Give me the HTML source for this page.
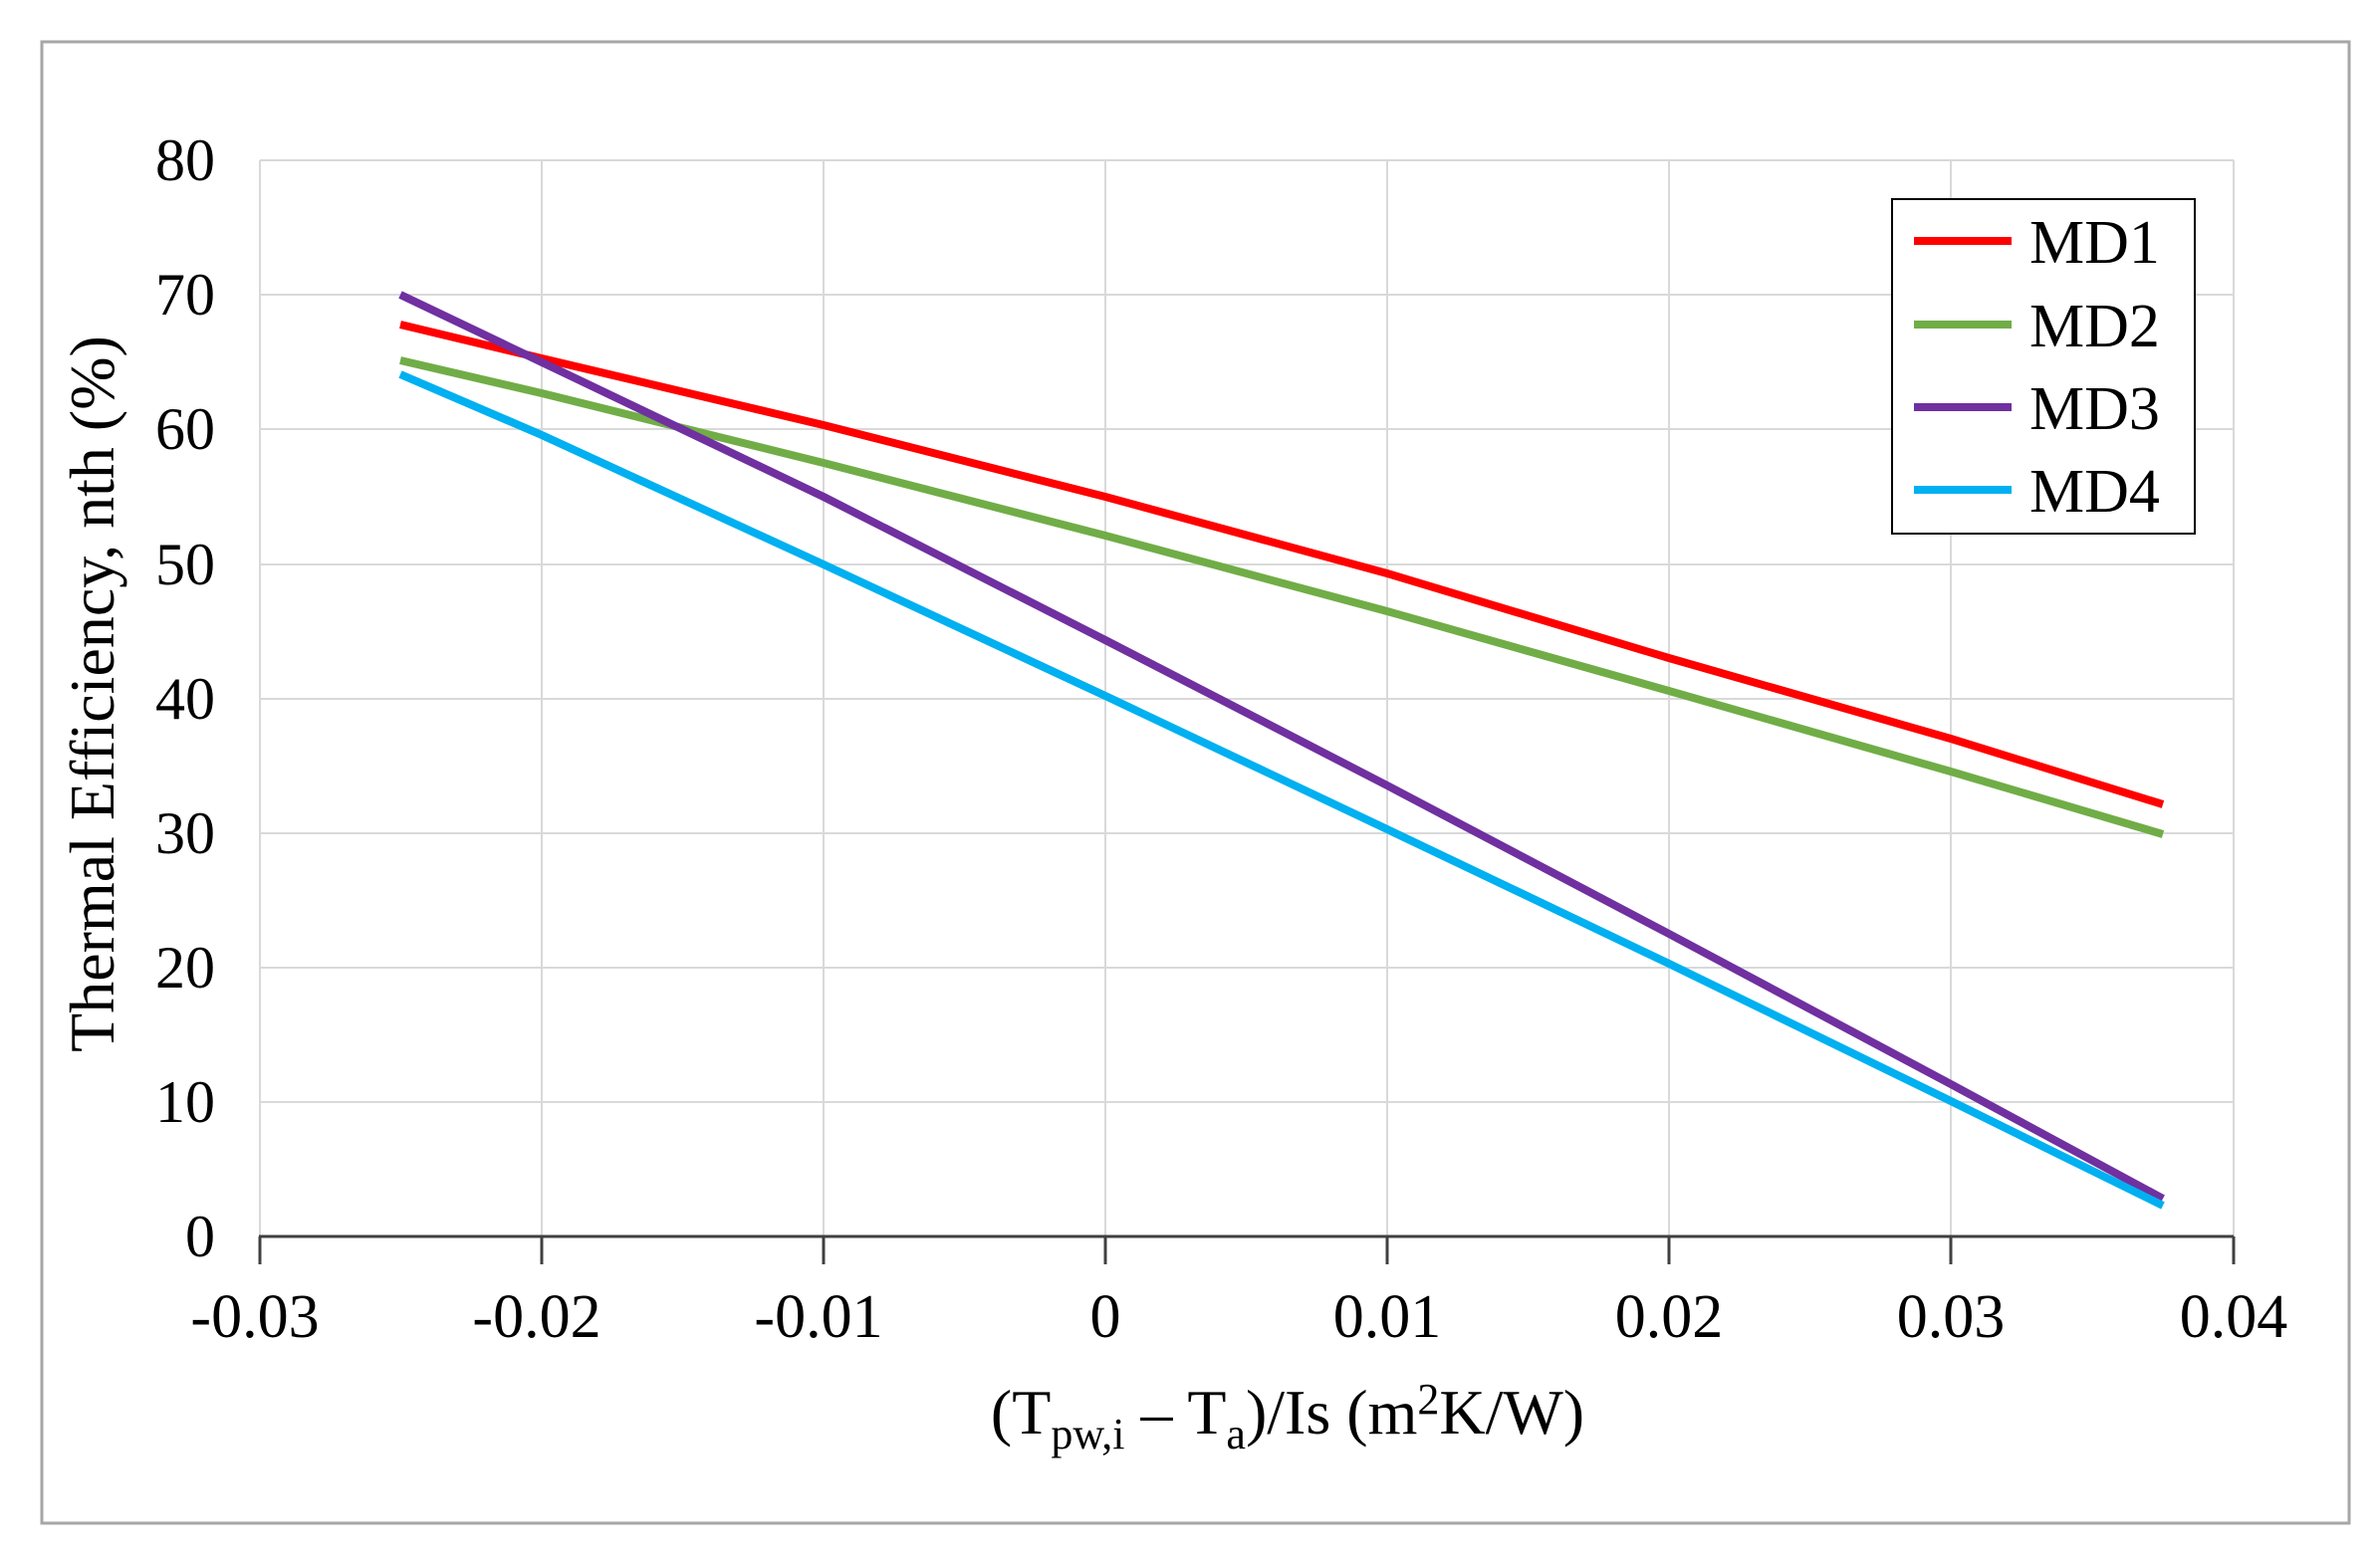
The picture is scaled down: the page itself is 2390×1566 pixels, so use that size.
<!DOCTYPE html>
<html><head><style>body{margin:0;background:#fff}svg{display:block}</style></head>
<body>
<svg width="2390" height="1566" xmlns="http://www.w3.org/2000/svg" font-family="Liberation Serif, serif" fill="#000">
<rect x="0" y="0" width="2390" height="1566" fill="#fff"/>
<rect x="42" y="42" width="2317" height="1488" fill="none" stroke="#a6a6a6" stroke-width="3"/>
<g stroke="#d9d9d9" stroke-width="2">
<line x1="261" y1="161" x2="2243" y2="161"/><line x1="261" y1="296" x2="2243" y2="296"/>
<line x1="261" y1="431" x2="2243" y2="431"/><line x1="261" y1="567" x2="2243" y2="567"/>
<line x1="261" y1="702" x2="2243" y2="702"/><line x1="261" y1="837" x2="2243" y2="837"/>
<line x1="261" y1="972" x2="2243" y2="972"/><line x1="261" y1="1107" x2="2243" y2="1107"/>
<line x1="261" y1="161" x2="261" y2="1242"/><line x1="544" y1="161" x2="544" y2="1242"/>
<line x1="827" y1="161" x2="827" y2="1242"/><line x1="1110" y1="161" x2="1110" y2="1242"/>
<line x1="1393" y1="161" x2="1393" y2="1242"/><line x1="1676" y1="161" x2="1676" y2="1242"/>
<line x1="1959" y1="161" x2="1959" y2="1242"/><line x1="2243" y1="161" x2="2243" y2="1242"/>
</g>
<g stroke="#404040" stroke-width="3">
<line x1="260" y1="1242" x2="2243" y2="1242"/>
<line x1="261" y1="1242" x2="261" y2="1270"/><line x1="544" y1="1242" x2="544" y2="1270"/>
<line x1="827" y1="1242" x2="827" y2="1270"/><line x1="1110" y1="1242" x2="1110" y2="1270"/>
<line x1="1393" y1="1242" x2="1393" y2="1270"/><line x1="1676" y1="1242" x2="1676" y2="1270"/>
<line x1="1959" y1="1242" x2="1959" y2="1270"/><line x1="2243" y1="1242" x2="2243" y2="1270"/>
</g>
<g font-size="60" text-anchor="end">
<text x="216" y="181">80</text><text x="216" y="316">70</text><text x="216" y="451">60</text>
<text x="216" y="587">50</text><text x="216" y="722">40</text><text x="216" y="857">30</text>
<text x="216" y="992">20</text><text x="216" y="1127">10</text><text x="216" y="1262">0</text>
</g>
<g font-size="62" text-anchor="middle">
<text x="256" y="1343">-0.03</text><text x="539" y="1343">-0.02</text><text x="822" y="1343">-0.01</text>
<text x="1110" y="1343">0</text><text x="1393" y="1343">0.01</text><text x="1676" y="1343">0.02</text>
<text x="1959" y="1343">0.03</text><text x="2243" y="1343">0.04</text>
</g>
<text x="1293" y="1440" font-size="64" text-anchor="middle">(T<tspan font-size="44" dy="15">pw,i</tspan><tspan dy="-15"> – T</tspan><tspan font-size="44" dy="15">a</tspan><tspan dy="-15">)/Is (m</tspan><tspan font-size="44" dy="-20">2</tspan><tspan dy="20">K/W)</tspan></text>
<text transform="translate(114,697) rotate(-90)" font-size="64" text-anchor="middle">Thermal Efficiency, nth (%)</text>
<g fill="none" stroke-width="8" stroke-linejoin="round">
<polyline stroke="#ff0000" points="402,326 544,360 827,427 1110,499 1393,576 1676,661 1959,742 2172,808"/>
<polyline stroke="#70ad47" points="402,362 544,395 827,465 1110,538 1393,614 1676,694 1959,775 2172,838"/>
<polyline stroke="#7030a0" points="402,296 827,499 1110,643 1393,789 1676,938 1959,1089 2172,1204"/>
<polyline stroke="#00b0f0" points="402,376 544,437 827,567 1110,699 1393,833 1676,968 1959,1106 2172,1211"/>
</g>
<rect x="1900" y="200" width="304" height="336" fill="#fff" stroke="#000" stroke-width="2"/>
<g stroke-width="8">
<line x1="1922" y1="242" x2="2020" y2="242" stroke="#ff0000"/>
<line x1="1922" y1="326" x2="2020" y2="326" stroke="#70ad47"/>
<line x1="1922" y1="409" x2="2020" y2="409" stroke="#7030a0"/>
<line x1="1922" y1="492" x2="2020" y2="492" stroke="#00b0f0"/>
</g>
<g font-size="62">
<text x="2038" y="264">MD1</text><text x="2038" y="348">MD2</text>
<text x="2038" y="431">MD3</text><text x="2038" y="514">MD4</text>
</g>
</svg>
</body></html>
